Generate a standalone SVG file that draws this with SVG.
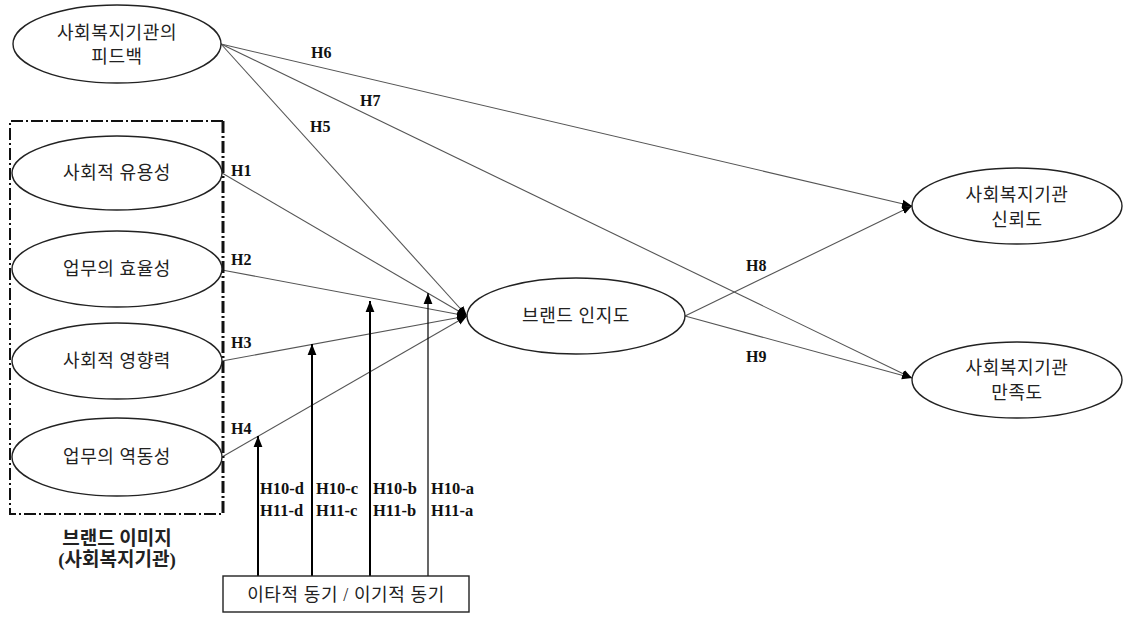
<svg xmlns="http://www.w3.org/2000/svg" width="1125" height="623" viewBox="0 0 1125 623">
<defs>
<marker id="ah" viewBox="0 0 10 10" refX="10" refY="5" markerWidth="10" markerHeight="10" markerUnits="userSpaceOnUse" orient="auto"><path d="M0,1 L10,5 L0,9 Z" fill="#000"/></marker>
<marker id="av" viewBox="0 0 10 10" refX="10" refY="5" markerWidth="11" markerHeight="11" markerUnits="userSpaceOnUse" orient="auto"><path d="M0,1 L10,5 L0,9 Z" fill="#000"/></marker>
</defs>
<style>
.node ellipse{fill:#fff;stroke:#222;stroke-width:1.4}
.kt{font-family:"Liberation Serif","Noto Sans CJK KR",serif;font-size:18px;letter-spacing:0.6px;fill:#222;text-anchor:middle}
.hl{font-family:"Liberation Serif","Noto Sans CJK KR",serif;font-size:16px;fill:#111;font-weight:bold}
.hm{font-family:"Liberation Serif","Noto Sans CJK KR",serif;font-size:16.5px;fill:#111;font-weight:bold}
.edge{stroke:#555;stroke-width:1.1;fill:none;marker-end:url(#ah)}
.mod{stroke:#000;stroke-width:2;fill:none;marker-end:url(#av)}
.dash{stroke:#111;stroke-width:2;fill:none;stroke-dasharray:12,3,2,3}
</style>
<rect width="1125" height="623" fill="#fff"/>
<g id="connectors">
<line class="edge" x1="221" y1="44" x2="912" y2="206"/>
<line class="edge" x1="221" y1="44" x2="912" y2="378"/>
<line class="edge" x1="221" y1="44" x2="467" y2="316"/>
<line class="edge" x1="222" y1="173" x2="467" y2="316"/>
<line class="edge" x1="222" y1="270" x2="467" y2="316"/>
<line class="edge" x1="222" y1="361" x2="467" y2="316"/>
<line class="edge" x1="222" y1="457" x2="467" y2="316"/>
<line class="edge" x1="685" y1="316" x2="912" y2="206"/>
<line class="edge" x1="685" y1="316" x2="912" y2="378"/>
<line class="mod" x1="258" y1="576" x2="258" y2="436"/>
<line class="mod" x1="312" y1="576" x2="312" y2="344"/>
<line class="mod" x1="370" y1="576" x2="370" y2="301"/>
<line class="mod" style="stroke-width:1.2" x1="428" y1="576" x2="428" y2="293"/>
<text class="hl" x="311" y="58">H6</text>
<text class="hl" x="360" y="106">H7</text>
<text class="hl" x="310" y="132">H5</text>
<text class="hl" x="231" y="176">H1</text>
<text class="hl" x="231" y="265">H2</text>
<text class="hl" x="231" y="348">H3</text>
<text class="hl" x="231" y="434">H4</text>
<text class="hl" x="746" y="271">H8</text>
<text class="hl" x="746" y="362">H9</text>
<text class="hm" x="260" y="494">H10-d</text>
<text class="hm" x="260" y="516">H11-d</text>
<text class="hm" x="316" y="494">H10-c</text>
<text class="hm" x="316" y="516">H11-c</text>
<text class="hm" x="373" y="494">H10-b</text>
<text class="hm" x="373" y="516">H11-b</text>
<text class="hm" x="431" y="494">H10-a</text>
<text class="hm" x="431" y="516">H11-a</text>
</g>
<g id="brand-image-group">
<path class="dash" d="M223,121 L10,121 L10,514 L223,514"/>
<line class="dash" style="stroke-width:3" x1="223" y1="121" x2="223" y2="514"/>
<text class="kt" style="font-weight:bold;font-size:19px;letter-spacing:0" x="117" y="545">브랜드 이미지</text>
<text class="kt" style="font-weight:bold;font-size:19px;letter-spacing:0" x="117" y="566">(사회복지기관)</text>
</g>
<g id="feedback" class="node">
<ellipse cx="117" cy="44" rx="104" ry="39"/>
<text class="kt" x="117" y="39">사회복지기관의</text>
<text class="kt" x="117" y="63">피드백</text>
</g>
<g id="social-usefulness" class="node">
<ellipse cx="117" cy="173" rx="105" ry="37"/>
<text class="kt" x="117" y="179">사회적 유용성</text>
</g>
<g id="work-efficiency" class="node">
<ellipse cx="117" cy="269" rx="105" ry="38"/>
<text class="kt" x="117" y="275">업무의 효율성</text>
</g>
<g id="social-influence" class="node">
<ellipse cx="117" cy="361" rx="105" ry="38"/>
<text class="kt" x="117" y="367">사회적 영향력</text>
</g>
<g id="work-activity" class="node">
<ellipse cx="117" cy="457" rx="105" ry="39"/>
<text class="kt" x="117" y="463">업무의 역동성</text>
</g>
<g id="brand-awareness" class="node">
<ellipse cx="576" cy="316" rx="109" ry="38"/>
<text class="kt" x="576" y="322">브랜드 인지도</text>
</g>
<g id="trust" class="node">
<ellipse cx="1017" cy="206" rx="105" ry="38"/>
<text class="kt" x="1017" y="201">사회복지기관</text>
<text class="kt" x="1017" y="226">신뢰도</text>
</g>
<g id="satisfaction" class="node">
<ellipse cx="1017" cy="380" rx="105" ry="38"/>
<text class="kt" x="1017" y="374">사회복지기관</text>
<text class="kt" x="1017" y="399">만족도</text>
</g>
<g id="motive" class="node">
<rect x="223" y="576" width="246" height="36" fill="#fff" stroke="#222" stroke-width="1.4"/>
<text class="kt" x="346" y="601">이타적 동기 / 이기적 동기</text>
</g>
</svg>
